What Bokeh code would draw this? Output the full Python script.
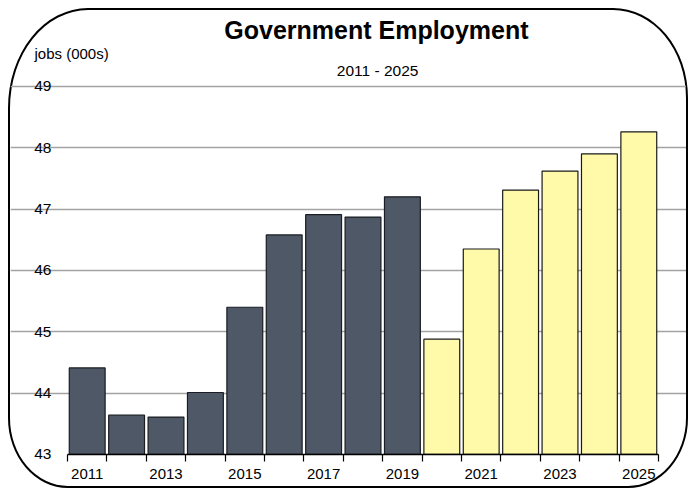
from bokeh.plotting import figure
from bokeh.models import FixedTicker, Label, Range1d
from bokeh.embed import file_html
from bokeh.resources import INLINE

# ---- data ----
years = list(range(2011, 2026))
actual_years = [2011, 2012, 2013, 2014, 2015, 2016, 2017, 2018, 2019]
actual_jobs = [44.41, 43.64, 43.61, 44.01, 45.40, 46.58, 46.91, 46.87, 47.20]
forecast_years = [2020, 2021, 2022, 2023, 2024, 2025]
forecast_jobs = [44.88, 46.35, 47.31, 47.62, 47.90, 48.26]
y_ticks = [43, 44, 45, 46, 47, 48, 49]
x_label_years = [2011, 2013, 2015, 2017, 2019, 2021, 2023, 2025]
title_text = "Government Employment"
subtitle_text = "2011 - 2025"
unit_text = "jobs (000s)"

FONT = "Liberation Sans, Arial, sans-serif"
BASE = 43
first, last = years[0] - 0.5, years[-1] + 0.5

p = figure(width=680, height=480, output_backend="svg", toolbar_location=None,
           x_range=Range1d(2009.0533, 2026.312), y_range=Range1d(42.412, 50.239),
           min_border=0)
p.background_fill_color = None
p.border_fill_color = None
p.outline_line_color = None
p.styles = {"border": "2px solid black",
            "margin": "8px 0 0 8px",
            "border-radius": "80px 75px 60px 60px / 100px 90px 70px 70px"}

# bars
p.vbar(x=actual_years, top=actual_jobs, bottom=BASE, width=0.91,
       fill_color="#4f5867", line_color="#1a1d22", line_width=1.2)
p.vbar(x=forecast_years, top=forecast_jobs, bottom=BASE, width=0.91,
       fill_color="#fffaaa", line_color="#1a1a1a", line_width=1.2)

# grid
p.xgrid.visible = False
p.ygrid.ticker = FixedTicker(ticks=y_ticks[1:])
p.ygrid.bounds = (first, last)
p.ygrid.grid_line_color = "#a3a3a3"
p.ygrid.grid_line_width = 1.5

# y axis
ya = p.yaxis[0]
ya.ticker = FixedTicker(ticks=y_ticks)
ya.fixed_location = first
ya.axis_line_color = None
ya.major_tick_line_color = None
ya.minor_tick_line_color = None
ya.major_tick_out = 0
ya.major_tick_in = 0
ya.major_label_standoff = 16
ya.major_label_text_font = FONT
ya.major_label_text_font_size = "15.5px"
ya.major_label_text_color = "black"

# x axis
xa = p.xaxis[0]
xa.ticker = FixedTicker(ticks=x_label_years, minor_ticks=[y - 0.5 for y in years] + [last])
xa.fixed_location = BASE
xa.bounds = (first, last)
xa.axis_line_color = "black"
xa.axis_line_width = 1.5
xa.major_tick_line_color = None
xa.major_tick_out = 0
xa.major_tick_in = 0
xa.minor_tick_line_color = "black"
xa.minor_tick_line_width = 1.2
xa.minor_tick_out = 7
xa.minor_tick_in = 0
xa.major_label_standoff = 8
xa.major_label_text_font = FONT
xa.major_label_text_font_size = "15px"
xa.major_label_text_color = "black"

# texts
p.add_layout(Label(x=2018.34, y=49.913, text=title_text, text_align="center",
                   text_baseline="middle", text_font=FONT, text_font_size="25px",
                   text_font_style="bold", text_color="black"))
p.add_layout(Label(x=2018.37, y=49.261, text=subtitle_text, text_align="center",
                   text_baseline="middle", text_font=FONT, text_font_size="15.5px",
                   text_color="black"))
p.add_layout(Label(x=2009.662, y=49.538, text=unit_text, text_align="left",
                   text_baseline="middle", text_font=FONT, text_font_size="15px",
                   text_color="black"))

open("out.html", "w").write(file_html(p, INLINE))
